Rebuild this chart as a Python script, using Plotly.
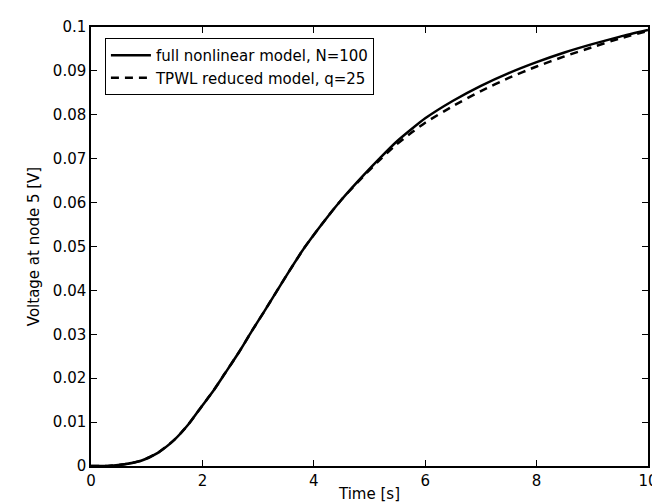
import plotly.graph_objects as go

time_s = [0, 0.3, 0.6, 0.9, 1.2, 1.5, 1.75, 2.0, 2.2, 2.4, 2.65, 2.9, 3.1, 3.5, 3.83,
          4.2, 4.5, 4.89, 5.2, 5.47, 5.75, 6.0, 6.5, 7.0, 7.5, 8.0, 8.5, 9.0, 9.5, 10.0]
full_model = [0, 0.0000, 0.0004, 0.0012, 0.0030, 0.0060, 0.0095, 0.0138, 0.0172, 0.0210,
              0.0258, 0.0310, 0.0350, 0.0432, 0.0497, 0.0560, 0.0607, 0.0662, 0.0703,
              0.0737, 0.0767, 0.0792, 0.0832, 0.0866, 0.0895, 0.0920, 0.0942, 0.0961,
              0.0978, 0.0993]
tpwl_model = [0, 0.0000, 0.0004, 0.0012, 0.0030, 0.0060, 0.0095, 0.0138, 0.0172, 0.0210,
              0.0258, 0.0310, 0.0350, 0.0432, 0.0497, 0.0560, 0.0607, 0.0660, 0.0699,
              0.0731, 0.0759, 0.0782, 0.0820, 0.0854, 0.0884, 0.0910, 0.0933, 0.0954,
              0.0974, 0.0991]
x_ticks = [0, 2, 4, 6, 8, 10]
y_ticks = [0, 0.01, 0.02, 0.03, 0.04, 0.05, 0.06, 0.07, 0.08, 0.09, 0.1]
y_tick_text = ["0", "0.01", "0.02", "0.03", "0.04", "0.05", "0.06", "0.07", "0.08", "0.09", "0.1"]

FONT = "DejaVu Sans, Liberation Sans, Arial, sans-serif"
FS = 15

fig = go.Figure()
fig.add_trace(go.Scatter(x=time_s, y=full_model, mode="lines",
                         name="full nonlinear model, N=100",
                         line=dict(color="black", width=2.5, shape="spline", smoothing=0.6)))
fig.add_trace(go.Scatter(x=time_s, y=tpwl_model, mode="lines",
                         name="TPWL reduced model, q=25",
                         line=dict(color="black", width=2.5, dash="8px,6px", shape="spline", smoothing=0.6)))

axis_common = dict(showline=True, linecolor="black", linewidth=1.5, mirror="ticks",
                   ticks="inside", ticklen=6, tickcolor="black", tickwidth=1,
                   showgrid=False, zeroline=False,
                   tickfont=dict(family=FONT, size=FS, color="black"))

fig.update_xaxes(range=[0, 10], tickvals=x_ticks,
                 title=dict(text="Time [s]", font=dict(family=FONT, size=FS, color="black"), standoff=0),
                 **axis_common)
fig.update_yaxes(range=[0, 0.1], tickvals=y_ticks, ticktext=y_tick_text,
                 title=dict(text="Voltage at node 5 [V]", font=dict(family=FONT, size=FS, color="black"), standoff=10),
                 **axis_common)

fig.update_layout(
    width=660, height=504,
    margin=dict(l=83, r=10, t=13, b=46),
    paper_bgcolor="white", plot_bgcolor="white",
    font=dict(family=FONT, size=FS, color="black"),
    showlegend=True,
    legend=dict(x=0.025, y=0.975, xanchor="left", yanchor="top",
                bgcolor="white", bordercolor="black", borderwidth=1,
                font=dict(family=FONT, size=FS, color="black"),
                itemwidth=40, tracegroupgap=0),
)

fig.write_html("out.html")
